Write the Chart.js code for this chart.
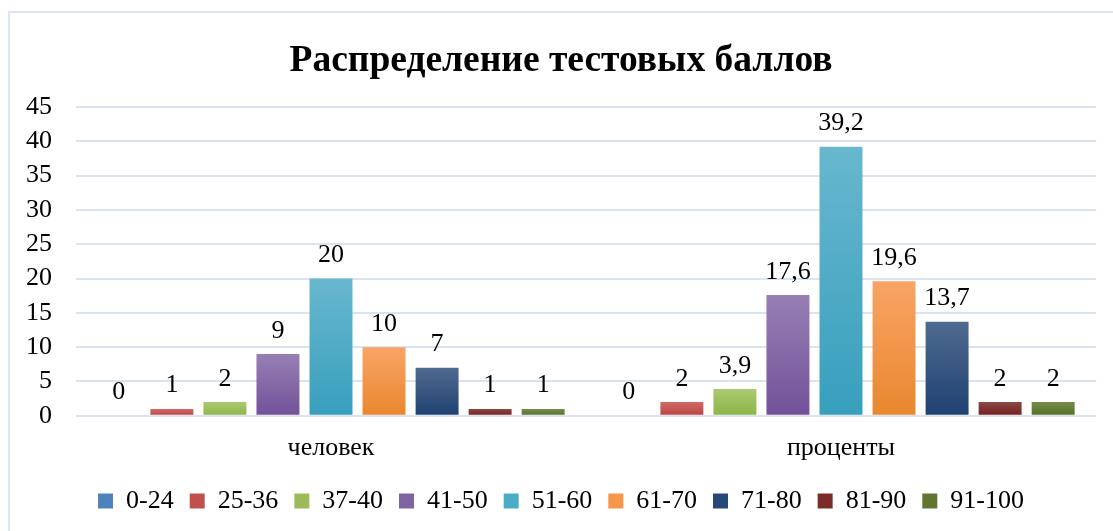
<!DOCTYPE html>
<html lang="ru">
<head>
<meta charset="utf-8">
<title>Распределение тестовых баллов</title>
<script src="https://cdn.jsdelivr.net/npm/chart.js@4"></script>
<style>
    html, body { margin: 0; padding: 0; background: #fff; overflow: hidden; }
    #wrap { position: relative; width: 1113px; height: 531px; }
    #frame {
        position: absolute; left: 8px; top: 11px; width: 1200px; height: 600px;
        border: 2px solid #dae4f2; pointer-events: none;
    }
</style>
</head>
<body>
<div id="wrap">
    <canvas id="chart" width="1113" height="531"></canvas>
    <div id="frame"></div>
</div>
<script>
// data
const categories = ['человек', 'проценты'];
const seriesNames = ['0-24', '25-36', '37-40', '41-50', '51-60', '61-70', '71-80', '81-90', '91-100'];
const s0_24 = [0, 0];
const s25_36 = [1, 2];
const s37_40 = [2, 3.9];
const s41_50 = [9, 17.6];
const s51_60 = [20, 39.2];
const s61_70 = [10, 19.6];
const s71_80 = [7, 13.7];
const s81_90 = [1, 2];
const s91_100 = [1, 2];
const yMax = 45;
const yStep = 5;

const seriesValues = [s0_24, s25_36, s37_40, s41_50, s51_60, s61_70, s71_80, s81_90, s91_100];

// colours: [base, top of bar, bottom of bar]
const palette = [
    ['#4f81bd', '#6b96cc', '#3a6db2'],
    ['#c0504d', '#d06a67', '#b94441'],
    ['#9bbb59', '#aac971', '#8cb447'],
    ['#8064a2', '#977fb3', '#72519a'],
    ['#4bacc6', '#68b7cf', '#379fbd'],
    ['#f79646', '#f9a466', '#e8872d'],
    ['#27497a', '#4f6a8f', '#1f4170'],
    ['#7b2c2a', '#8a4845', '#73201d'],
    ['#5f7530', '#728c4c', '#566f22']
];

const serif = "'Liberation Serif', 'Times New Roman', serif";
Chart.defaults.font.family = serif;
Chart.defaults.color = '#000';

function barFill(i) {
    return (ctx) => {
        const [base, light, dark] = palette[i];
        const chart = ctx.chart;
        if (!chart.chartArea || ctx.type !== 'data') return base;
        const y = chart.scales.y;
        const top = y.getPixelForValue(ctx.raw);
        const bottom = y.getPixelForValue(0);
        if (bottom - top < 1) return base;
        const g = chart.ctx.createLinearGradient(0, top, 0, bottom);
        g.addColorStop(0, light);
        g.addColorStop(1, dark);
        return g;
    };
}

// value labels above the bars
const valueLabels = {
    id: 'valueLabels',
    afterDatasetsDraw(chart) {
        const ctx = chart.ctx;
        ctx.save();
        ctx.font = '26px ' + serif;
        ctx.fillStyle = '#000';
        ctx.textAlign = 'center';
        ctx.textBaseline = 'alphabetic';
        chart.data.datasets.forEach((ds, i) => {
            chart.getDatasetMeta(i).data.forEach((bar, j) => {
                const text = String(ds.data[j]).replace('.', ',');
                ctx.fillText(text, bar.x, bar.y - 16.5);
            });
        });
        ctx.restore();
    }
};

const ctx = document.getElementById('chart');
new Chart(ctx, {
    type: 'bar',
    data: {
        labels: categories,
        datasets: seriesNames.map((name, i) => ({
            label: name,
            data: seriesValues[i],
            backgroundColor: barFill(i),
            borderWidth: 0,
            categoryPercentage: 0.936,
            barPercentage: 0.81
        }))
    },
    options: {
        responsive: false,
        animation: false,
        layout: { padding: { left: 26, right: 17, top: 0, bottom: 7 } },
        plugins: {
            title: {
                display: true,
                text: 'Распределение тестовых баллов',
                font: { size: 37.5, weight: 'bold', family: serif },
                color: '#000',
                padding: { top: 39, bottom: 23 }
            },
            legend: {
                position: 'bottom',
                labels: {
                    font: { size: 26, family: serif },
                    boxWidth: 15,
                    boxHeight: 15,
                    padding: 16,
                    generateLabels(chart) {
                        return chart.data.datasets.map((ds, i) => ({
                            text: ds.label,
                            fillStyle: palette[i][0],
                            strokeStyle: palette[i][0],
                            lineWidth: 0,
                            datasetIndex: i
                        }));
                    }
                }
            },
            tooltip: { enabled: false }
        },
        scales: {
            x: {
                grid: { display: false, drawTicks: false },
                border: { display: false },
                ticks: { font: { size: 26 }, padding: 17 },
                afterFit(scale) { scale.height -= 9; }
            },
            y: {
                min: 0,
                max: yMax,
                grid: { color: '#d9e3f1', lineWidth: 2, drawTicks: false },
                border: { display: false },
                ticks: { stepSize: yStep, autoSkip: false, font: { size: 26 }, padding: 24 },
                afterFit(scale) { scale.width = 50; }
            }
        }
    },
    plugins: [valueLabels]
});
</script>
</body>
</html>
